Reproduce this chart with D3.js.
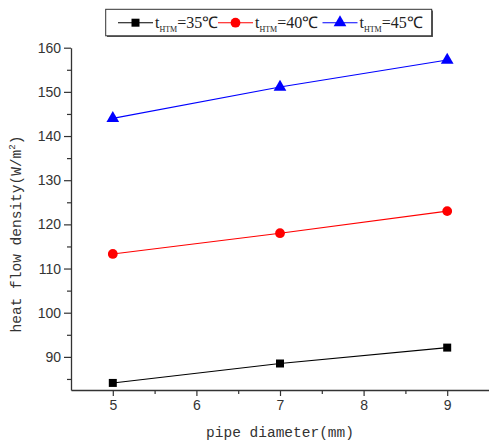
<!DOCTYPE html>
<html>
<head>
<meta charset="utf-8">
<script src="https://cdn.jsdelivr.net/npm/d3@7"></script>
<style>
  body { margin: 0; background: #fff; }
  svg { display: block; }
</style>
</head>
<body>
<svg id="plot"></svg>
<script>
// data
const diameters = [5, 7, 9];
const t35 = [84.1, 88.5, 92.1];
const t40 = [113.3, 118.0, 123.0];
const t45 = [144.0, 151.1, 157.2];
const seriesLabels = ["35℃", "40℃", "45℃"];
const yTicks = [90, 100, 110, 120, 130, 140, 150, 160];
const yMinor = [85, 95, 105, 115, 125, 135, 145, 155];
const xTicks = [5, 6, 7, 8, 9];
const xMinor = [5.5, 6.5, 7.5, 8.5];

const W = 489, H = 444;
const margin = { top: 47.7, right: 0, bottom: 54, left: 71 };

const svg = d3.select("#plot").attr("width", W).attr("height", H);

const x = d3.scaleLinear().domain([4.5, 9.5]).range([margin.left, W - margin.right]);
const y = d3.scaleLinear().domain([82.5, 160]).range([H - margin.bottom, margin.top]);

const axisColor = "#333";
const tickFont = "'Liberation Sans', Arial, sans-serif";
const titleFont = "'Liberation Mono', 'DejaVu Sans Mono', monospace";

// x axis
const gx = svg.append("g").attr("transform", `translate(0,${y.range()[0]})`);
gx.call(d3.axisBottom(x).tickValues(xTicks).tickSize(6).tickSizeOuter(0).tickPadding(4).tickFormat(d3.format("d")));
gx.append("g").call(d3.axisBottom(x).tickValues(xMinor).tickSize(4).tickFormat(""))
  .select(".domain").remove();

// y axis
const gy = svg.append("g").attr("transform", `translate(${margin.left},0)`);
gy.call(d3.axisLeft(y).tickValues(yTicks).tickSize(7).tickSizeOuter(0).tickPadding(3));
gy.append("g").call(d3.axisLeft(y).tickValues(yMinor).tickSize(4).tickFormat(""))
  .select(".domain").remove();

svg.selectAll(".domain").attr("stroke", axisColor).attr("stroke-width", 1.3);
svg.selectAll(".tick line").attr("stroke", axisColor).attr("stroke-width", 1.2);
svg.selectAll(".tick text")
  .attr("fill", "#333")
  .style("font-family", tickFont)
  .style("font-size", "14px");

// axis titles
svg.append("text")
  .attr("x", (x.range()[0] + x.range()[1]) / 2)
  .attr("y", 437)
  .attr("text-anchor", "middle")
  .style("font-family", titleFont)
  .style("font-size", "14.5px")
  .attr("fill", "#333")
  .text("pipe diameter(mm)");

const yt = svg.append("text")
  .attr("transform", "translate(21,234) rotate(-90)")
  .attr("text-anchor", "middle")
  .style("font-family", titleFont)
  .style("font-size", "14.5px")
  .attr("fill", "#333");
yt.append("tspan").text("heat flow density(W/m");
yt.append("tspan").attr("dy", -6).style("font-size", "9px").text("2");
yt.append("tspan").attr("dy", 6).text(")");

// series
const series = [
  { values: t35, color: "#000000", marker: d3.symbolSquare, size: 64 },
  { values: t40, color: "#ff0000", marker: d3.symbolCircle, size: 75 },
  { values: t45, color: "#0000ff", marker: d3.symbolTriangle, size: 70 }
];

const line = d3.line().x(d => x(d[0])).y(d => y(d[1]));

series.forEach(s => {
  const pts = diameters.map((d, i) => [d, s.values[i]]);
  svg.append("path")
    .datum(pts)
    .attr("d", line)
    .attr("fill", "none")
    .attr("stroke", s.color)
    .attr("stroke-width", 1.1);
  svg.selectAll(null)
    .data(pts)
    .enter().append("path")
    .attr("transform", d => `translate(${x(d[0])},${y(d[1])})`)
    .attr("d", d3.symbol().type(s.marker).size(s.size))
    .attr("fill", s.color);
});

// legend
const legend = svg.append("g");
legend.append("rect")
  .attr("x", 107).attr("y", 10.5).attr("width", 326).attr("height", 26.5)
  .attr("fill", "#555");
legend.append("rect")
  .attr("x", 105.7).attr("y", 9.3).attr("width", 326).attr("height", 26.5)
  .attr("fill", "#fff").attr("stroke", "#333").attr("stroke-width", 1);

const entryX = [118, 218, 322.5];
const ly = 22.7;
series.forEach((s, i) => {
  const ex = entryX[i];
  legend.append("line")
    .attr("x1", ex).attr("x2", ex + 35)
    .attr("y1", ly).attr("y2", ly)
    .attr("stroke", s.color).attr("stroke-width", 1.1);
  legend.append("path")
    .attr("transform", `translate(${ex + 17.5},${ly})`)
    .attr("d", d3.symbol().type(s.marker).size(s.size))
    .attr("fill", s.color);
  const t = legend.append("text")
    .attr("x", ex + 37).attr("y", ly + 5.5)
    .style("font-family", "'Liberation Serif', 'Times New Roman', serif")
    .style("font-size", "16px")
    .attr("fill", "#222");
  t.append("tspan").text("t");
  t.append("tspan").attr("dy", 4).style("font-size", "8px").text("HTM");
  t.append("tspan").attr("dy", -4).text("=" + seriesLabels[i]);
});
</script>
</body>
</html>
